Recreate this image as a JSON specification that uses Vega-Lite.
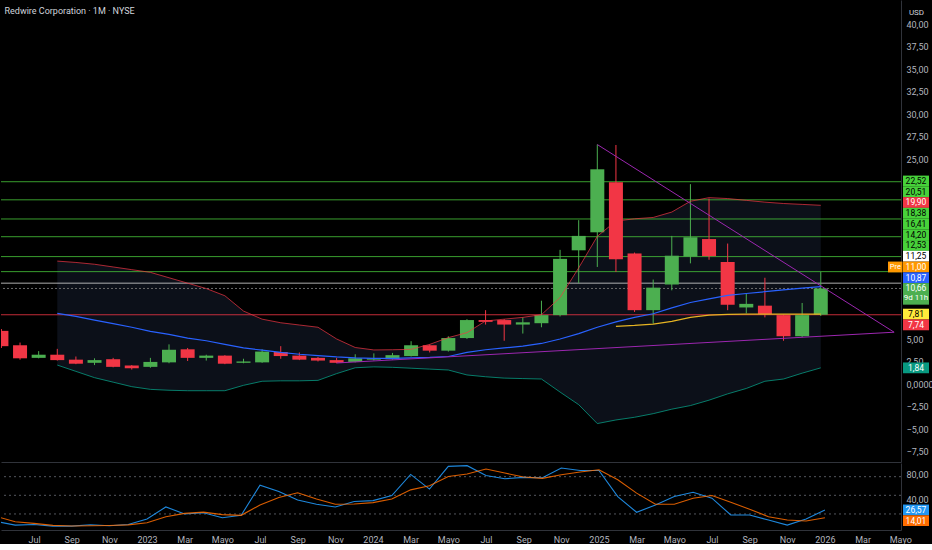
{
  "$schema": "https://vega.github.io/schema/vega-lite/v6.json",
  "background": "#000000",
  "padding": 0,
  "spacing": 1,
  "config": {
    "view": {"stroke": null},
    "font": "Roboto",
    "axis": {"labelColor": "#b2b5be", "labelFontSize": 9, "domainColor": "#30333a", "ticks": false, "grid": false, "labelOverlap": false, "labelFlush": false}
  },
  "datasets": {
    "candles": [
      {"m": -8, "open": 5.95, "close": 4.25, "high": 6.15, "low": 4.05},
      {"m": -7, "open": 4.35, "close": 2.9, "high": 4.65, "low": 2.75},
      {"m": -6, "open": 2.95, "close": 3.3, "high": 3.7, "low": 2.9},
      {"m": -5, "open": 3.3, "close": 2.7, "high": 3.95, "low": 2.65},
      {"m": -4, "open": 2.75, "close": 2.3, "high": 3.1, "low": 2.25},
      {"m": -3, "open": 2.4, "close": 2.7, "high": 2.9, "low": 2.15},
      {"m": -2, "open": 2.8, "close": 1.95, "high": 2.95, "low": 1.9},
      {"m": -1, "open": 2.1, "close": 1.8, "high": 2.15, "low": 1.65},
      {"m": 0, "open": 1.95, "close": 2.5, "high": 2.95, "low": 1.85},
      {"m": 1, "open": 2.45, "close": 3.85, "high": 4.45, "low": 2.35},
      {"m": 2, "open": 3.9, "close": 2.95, "high": 4.05, "low": 2.6},
      {"m": 3, "open": 2.95, "close": 3.2, "high": 3.3, "low": 2.65},
      {"m": 4, "open": 3.2, "close": 2.3, "high": 3.25, "low": 2.25},
      {"m": 5, "open": 2.4, "close": 2.55, "high": 2.85, "low": 2.35},
      {"m": 6, "open": 2.45, "close": 3.65, "high": 3.9, "low": 2.4},
      {"m": 7, "open": 3.6, "close": 3.15, "high": 4.25, "low": 2.85},
      {"m": 8, "open": 3.2, "close": 2.75, "high": 3.55, "low": 2.7},
      {"m": 9, "open": 2.95, "close": 2.65, "high": 3.05, "low": 2.55},
      {"m": 10, "open": 2.7, "close": 2.4, "high": 2.95, "low": 2.35},
      {"m": 11, "open": 2.5, "close": 2.9, "high": 3.35, "low": 2.45},
      {"m": 12, "open": 2.75, "close": 2.9, "high": 3.45, "low": 2.65},
      {"m": 13, "open": 2.8, "close": 3.25, "high": 3.5, "low": 2.75},
      {"m": 14, "open": 3.15, "close": 4.35, "high": 4.8, "low": 3.1},
      {"m": 15, "open": 4.35, "close": 3.75, "high": 4.45, "low": 3.55},
      {"m": 16, "open": 3.75, "close": 5.15, "high": 5.35, "low": 3.65},
      {"m": 17, "open": 5.15, "close": 7.15, "high": 7.25, "low": 5.05},
      {"m": 18, "open": 7.15, "close": 6.95, "high": 8.25, "low": 6.65},
      {"m": 19, "open": 7.15, "close": 6.65, "high": 7.25, "low": 4.85},
      {"m": 20, "open": 6.65, "close": 6.9, "high": 7.45, "low": 5.65},
      {"m": 21, "open": 6.8, "close": 7.7, "high": 9.3, "low": 6.35},
      {"m": 22, "open": 7.7, "close": 13.95, "high": 14.95, "low": 7.55},
      {"m": 23, "open": 14.9, "close": 16.5, "high": 18.25, "low": 11.25},
      {"m": 24, "open": 16.9, "close": 23.9, "high": 26.65, "low": 13.05},
      {"m": 25, "open": 22.45, "close": 13.9, "high": 26.6, "low": 12.5},
      {"m": 26, "open": 14.55, "close": 8.25, "high": 14.65, "low": 8.05},
      {"m": 27, "open": 8.25, "close": 10.75, "high": 11.65, "low": 6.75},
      {"m": 28, "open": 11.1, "close": 14.3, "high": 16.5, "low": 10.45},
      {"m": 29, "open": 14.2, "close": 16.35, "high": 22.25, "low": 13.45},
      {"m": 30, "open": 16.15, "close": 14.25, "high": 20.65, "low": 13.85},
      {"m": 31, "open": 13.6, "close": 8.85, "high": 15.65, "low": 8.25},
      {"m": 32, "open": 8.55, "close": 8.95, "high": 10.1, "low": 7.9},
      {"m": 33, "open": 8.75, "close": 7.8, "high": 11.85, "low": 7.45},
      {"m": 34, "open": 7.7, "close": 5.35, "high": 7.75, "low": 4.85},
      {"m": 35, "open": 5.35, "close": 7.7, "high": 9.05, "low": 5.25},
      {"m": 36, "open": 7.74, "close": 10.66, "high": 12.5, "low": 7.6}
    ],
    "bands": [
      {"m": -5, "upper": 13.7, "mid": 7.9, "lower": 2.15},
      {"m": -4, "upper": 13.55, "mid": 7.55, "lower": 1.45},
      {"m": -3, "upper": 13.35, "mid": 7.15, "lower": 0.75},
      {"m": -2, "upper": 13.05, "mid": 6.75, "lower": 0.25},
      {"m": -1, "upper": 12.75, "mid": 6.35, "lower": -0.25},
      {"m": 0, "upper": 12.45, "mid": 5.9, "lower": -0.55},
      {"m": 1, "upper": 11.85, "mid": 5.55, "lower": -0.65},
      {"m": 2, "upper": 11.25, "mid": 5.15, "lower": -0.7},
      {"m": 3, "upper": 10.65, "mid": 4.85, "lower": -0.7},
      {"m": 4, "upper": 9.85, "mid": 4.45, "lower": -0.7},
      {"m": 5, "upper": 8.15, "mid": 4.05, "lower": -0.1},
      {"m": 6, "upper": 7.25, "mid": 3.8, "lower": 0.35},
      {"m": 7, "upper": 6.85, "mid": 3.55, "lower": 0.4},
      {"m": 8, "upper": 6.6, "mid": 3.35, "lower": 0.4},
      {"m": 9, "upper": 6.35, "mid": 3.2, "lower": 0.45},
      {"m": 10, "upper": 5.05, "mid": 3.05, "lower": 1.2},
      {"m": 11, "upper": 4.1, "mid": 2.95, "lower": 1.85},
      {"m": 12, "upper": 3.83, "mid": 2.9, "lower": 1.95},
      {"m": 13, "upper": 3.85, "mid": 2.9, "lower": 1.9},
      {"m": 14, "upper": 3.9, "mid": 2.95, "lower": 1.8},
      {"m": 15, "upper": 4.45, "mid": 3.0, "lower": 1.7},
      {"m": 16, "upper": 5.2, "mid": 3.1, "lower": 1.6},
      {"m": 17, "upper": 5.75, "mid": 3.55, "lower": 1.05},
      {"m": 18, "upper": 7.05, "mid": 3.85, "lower": 0.85},
      {"m": 19, "upper": 7.25, "mid": 4.05, "lower": 0.7},
      {"m": 20, "upper": 7.45, "mid": 4.25, "lower": 0.65},
      {"m": 21, "upper": 7.75, "mid": 4.55, "lower": 0.6},
      {"m": 22, "upper": 9.65, "mid": 5.05, "lower": -0.85},
      {"m": 23, "upper": 12.95, "mid": 5.65, "lower": -2.25},
      {"m": 24, "upper": 16.45, "mid": 6.35, "lower": -4.35},
      {"m": 25, "upper": 18.15, "mid": 6.95, "lower": -3.95},
      {"m": 26, "upper": 18.4, "mid": 7.45, "lower": -3.65},
      {"m": 27, "upper": 18.55, "mid": 7.85, "lower": -3.25},
      {"m": 28, "upper": 19.15, "mid": 8.5, "lower": -2.75},
      {"m": 29, "upper": 20.35, "mid": 9.1, "lower": -2.35},
      {"m": 30, "upper": 20.75, "mid": 9.5, "lower": -1.75},
      {"m": 31, "upper": 20.65, "mid": 9.9, "lower": -1.05},
      {"m": 32, "upper": 20.45, "mid": 10.1, "lower": -0.45},
      {"m": 33, "upper": 20.25, "mid": 10.3, "lower": 0.35},
      {"m": 34, "upper": 20.1, "mid": 10.5, "lower": 0.6},
      {"m": 35, "upper": 20.0, "mid": 10.7, "lower": 1.25},
      {"m": 36, "upper": 19.9, "mid": 10.87, "lower": 1.84}
    ],
    "yellow": [
      {"m": 25, "v": 6.45}, {"m": 26, "v": 6.55}, {"m": 27, "v": 6.7}, {"m": 28, "v": 7.0},
      {"m": 29, "v": 7.45}, {"m": 30, "v": 7.7}, {"m": 31, "v": 7.78}, {"m": 32, "v": 7.8},
      {"m": 33, "v": 7.8}, {"m": 34, "v": 7.8}, {"m": 35, "v": 7.81}, {"m": 36, "v": 7.81}
    ],
    "trend": [
      {"line": "down", "m": 24, "p": 26.65},
      {"line": "down", "m": 39.94, "p": 5.8},
      {"line": "up", "m": 10, "p": 2.38},
      {"line": "up", "m": 39.94, "p": 5.8}
    ],
    "levels": [
      {"price": 22.52, "kind": "level"},
      {"price": 20.51, "kind": "level"},
      {"price": 18.38, "kind": "level"},
      {"price": 16.41, "kind": "level"},
      {"price": 14.2, "kind": "level"},
      {"price": 12.53, "kind": "level"},
      {"price": 11.25, "kind": "white"},
      {"price": 10.66, "kind": "last"},
      {"price": 7.74, "kind": "red"}
    ],
    "tags": [
      {"price": 22.52, "kind": "level"},
      {"price": 20.51, "kind": "level"},
      {"price": 19.9, "kind": "bbup"},
      {"price": 18.38, "kind": "level"},
      {"price": 16.41, "kind": "level"},
      {"price": 14.2, "kind": "level"},
      {"price": 12.53, "kind": "level"},
      {"price": 11.25, "kind": "white"},
      {"price": 11.0, "kind": "pre"},
      {"price": 10.87, "kind": "bbmid"},
      {"price": 10.66, "kind": "last", "note": "9d 11h"},
      {"price": 7.81, "kind": "yellow"},
      {"price": 7.74, "kind": "red"},
      {"price": 1.84, "kind": "bblow"}
    ],
    "stoch": [
      {"m": -8, "k": 8, "d": 16},
      {"m": -7, "k": 2, "d": 7.5},
      {"m": -6, "k": 3, "d": 4.9},
      {"m": -5, "k": 0.5, "d": 1.6},
      {"m": -4, "k": 0.5, "d": 0.6},
      {"m": -3, "k": 2.6, "d": 1},
      {"m": -2, "k": 1, "d": 1.5},
      {"m": -1, "k": 3, "d": 2.5},
      {"m": 0, "k": 11.8, "d": 5.9},
      {"m": 1, "k": 31.3, "d": 15.6},
      {"m": 2, "k": 20, "d": 21},
      {"m": 3, "k": 22, "d": 23},
      {"m": 4, "k": 14, "d": 18.9},
      {"m": 5, "k": 17.8, "d": 17.8},
      {"m": 6, "k": 66.4, "d": 34.5},
      {"m": 7, "k": 56, "d": 46.4},
      {"m": 8, "k": 42.6, "d": 54},
      {"m": 9, "k": 35.6, "d": 44.2},
      {"m": 10, "k": 31.3, "d": 35.6},
      {"m": 11, "k": 40, "d": 36},
      {"m": 12, "k": 41.5, "d": 38.3},
      {"m": 13, "k": 49.6, "d": 44.2},
      {"m": 14, "k": 83.6, "d": 58.8},
      {"m": 15, "k": 60, "d": 65.3},
      {"m": 16, "k": 96.6, "d": 80.4},
      {"m": 17, "k": 97.7, "d": 84.2},
      {"m": 18, "k": 82, "d": 92.4},
      {"m": 19, "k": 76.7, "d": 85.9},
      {"m": 20, "k": 78.8, "d": 79.4},
      {"m": 21, "k": 78.3, "d": 77.2},
      {"m": 22, "k": 94, "d": 83.1},
      {"m": 23, "k": 90, "d": 87.5},
      {"m": 24, "k": 90, "d": 91.2},
      {"m": 25, "k": 48, "d": 75},
      {"m": 26, "k": 22.7, "d": 53.5},
      {"m": 27, "k": 34.5, "d": 35.6},
      {"m": 28, "k": 48, "d": 35.6},
      {"m": 29, "k": 55, "d": 45.4},
      {"m": 30, "k": 45.4, "d": 49.6},
      {"m": 31, "k": 18.3, "d": 38.9},
      {"m": 32, "k": 18.3, "d": 27.5},
      {"m": 33, "k": 10.2, "d": 15.6},
      {"m": 34, "k": 2.1, "d": 10.2},
      {"m": 35, "k": 11.8, "d": 8.6},
      {"m": 36, "k": 26.57, "d": 14.01}
    ],
    "stochlevels": [{"v": 80}, {"v": 50}, {"v": 20}],
    "stochtags": [{"v": 26.57, "kind": "k"}, {"v": 14.01, "kind": "d"}]
  },
  "resolve": {"scale": {"x": "independent", "y": "independent", "color": "independent", "fill": "independent", "stroke": "independent"}},
  "vconcat": [
    {
      "width": 900,
      "height": 462,
      "title": {"text": "Redwire Corporation · 1M · NYSE", "anchor": "start", "offset": -16, "dx": 4, "fontSize": 9, "fontWeight": "normal", "color": "#d1d4dc"},
      "layer": [
        {
          "data": {"name": "bands"},
          "mark": {"type": "area", "color": "#0c1019"},
          "encoding": {
            "x": {"field": "m", "type": "quantitative", "scale": {"domain": [-7.754, 40.04], "nice": false, "zero": false}, "axis": {"labels": false, "title": null, "domainColor": "#30333a"}},
            "y": {"field": "upper", "type": "quantitative", "scale": {"domain": [-8.62, 42.71], "nice": false, "zero": false},
              "axis": {"orient": "right", "title": "USD", "titleAngle": 0, "titleX": 15, "titleY": 12, "titleAlign": "center", "titleBaseline": "middle", "titleFontSize": 8, "titleFontWeight": "normal", "titleColor": "#d1d4dc",
                "values": [-7.5, -5, -2.5, 0, 2.5, 5, 25, 27.5, 30, 32.5, 35, 37.5, 40], "tickCount": 100,
                "labelExpr": "datum.value == 0 ? '0,0000' : replace(format(datum.value, '.2f'), '.', ',')", "labelPadding": 5}},
            "y2": {"field": "lower"}
          }
        },
        {
          "data": {"name": "levels"},
          "transform": [{"filter": "datum.kind != 'last'"}],
          "mark": {"type": "rule", "strokeWidth": 1, "opacity": 0.8},
          "encoding": {
            "y": {"field": "price", "type": "quantitative"},
            "stroke": {"field": "kind", "type": "nominal", "scale": {"domain": ["level", "white", "red"], "range": ["#47c43a", "#d9d9d9", "#f23645"]}, "legend": null}
          }
        },
        {
          "data": {"name": "levels"},
          "transform": [{"filter": "datum.kind == 'last'"}],
          "mark": {"type": "rule", "strokeWidth": 1, "color": "#6b6b6b", "strokeDash": [2, 2]},
          "encoding": {"y": {"field": "price", "type": "quantitative"}}
        },
        {
          "data": {"name": "candles"},
          "transform": [{"calculate": "datum.close >= datum.open ? 'up' : 'down'", "as": "dir"}],
          "layer": [
            {
              "mark": {"type": "rule", "clip": true},
              "encoding": {
                "x": {"field": "m", "type": "quantitative"},
                "y": {"field": "low", "type": "quantitative"},
                "y2": {"field": "high"},
                "color": {"field": "dir", "type": "nominal", "scale": {"domain": ["up", "down"], "range": ["#4caf50", "#f23645"]}, "legend": null}
              }
            },
            {
              "mark": {"type": "bar", "size": 14, "clip": true},
              "encoding": {
                "x": {"field": "m", "type": "quantitative"},
                "y": {"field": "open", "type": "quantitative"},
                "y2": {"field": "close"},
                "color": {"field": "dir", "type": "nominal", "scale": {"domain": ["up", "down"], "range": ["#4caf50", "#f23645"]}, "legend": null}
              }
            }
          ]
        },
        {
          "data": {"name": "bands"},
          "mark": {"type": "line", "color": "#f23645", "strokeWidth": 1, "opacity": 0.7},
          "encoding": {"x": {"field": "m", "type": "quantitative"}, "y": {"field": "upper", "type": "quantitative"}}
        },
        {
          "data": {"name": "bands"},
          "mark": {"type": "line", "color": "#2962ff", "strokeWidth": 1.2},
          "encoding": {"x": {"field": "m", "type": "quantitative"}, "y": {"field": "mid", "type": "quantitative"}}
        },
        {
          "data": {"name": "bands"},
          "mark": {"type": "line", "color": "#089981", "strokeWidth": 1, "opacity": 0.8},
          "encoding": {"x": {"field": "m", "type": "quantitative"}, "y": {"field": "lower", "type": "quantitative"}}
        },
        {
          "data": {"name": "yellow"},
          "mark": {"type": "line", "color": "#e6b422", "strokeWidth": 1.2},
          "encoding": {"x": {"field": "m", "type": "quantitative"}, "y": {"field": "v", "type": "quantitative"}}
        },
        {
          "data": {"name": "trend"},
          "mark": {"type": "line", "color": "#9c27b0", "strokeWidth": 1},
          "encoding": {"x": {"field": "m", "type": "quantitative"}, "y": {"field": "p", "type": "quantitative"}, "detail": {"field": "line"}}
        },
        {
          "data": {"name": "tags"},
          "transform": [
            {"calculate": "datum.kind == 'last' ? datum.price : null", "as": "lastp"},
            {"joinaggregate": [{"op": "max", "field": "lastp", "as": "anchor"}]},
            {"calculate": "datum.price >= datum.anchor ? 'up' : 'dn'", "as": "side"},
            {"calculate": "datum.side == 'up' ? datum.price : -datum.price", "as": "key"},
            {"window": [{"op": "row_number", "as": "r"}], "groupby": ["side"], "sort": [{"field": "key", "order": "ascending"}]},
            {"calculate": "datum.price - datum.r * 1.194", "as": "aup"},
            {"calculate": "datum.price + datum.r * 1.194", "as": "adn"},
            {"window": [{"op": "max", "field": "aup", "as": "mx"}, {"op": "min", "field": "adn", "as": "mn"}], "groupby": ["side"], "sort": [{"field": "key", "order": "ascending"}], "frame": [null, 0]},
            {"calculate": "datum.side == 'up' ? datum.mx + datum.r * 1.194 : datum.mn - datum.r * 1.194", "as": "pos"},
            {"calculate": "datum.pos + 0.6", "as": "top"},
            {"calculate": "datum.kind == 'last' ? datum.pos - 1.8 : datum.pos - 0.6", "as": "bot"},
            {"calculate": "replace(format(datum.price, '.2f'), '.', ',')", "as": "label"}
          ],
          "layer": [
            {
              "mark": {"type": "rect", "x": {"expr": "width + 2"}, "x2": {"expr": "width + 28"}},
              "encoding": {
                "y": {"field": "top", "type": "quantitative"},
                "y2": {"field": "bot"},
                "fill": {"field": "kind", "type": "nominal", "legend": null,
                  "scale": {"domain": ["level", "bbup", "white", "pre", "bbmid", "last", "yellow", "red", "bblow"],
                            "range": ["#47d13a", "#f23645", "#ffffff", "#ff9800", "#2962ff", "#4caf50", "#ffeb3b", "#f23645", "#089981"]}}
              }
            },
            {
              "mark": {"type": "text", "x": {"expr": "width + 15"}, "align": "center", "baseline": "middle", "fontSize": 8.5},
              "encoding": {
                "y": {"field": "pos", "type": "quantitative"},
                "text": {"field": "label"},
                "color": {"condition": {"test": "datum.kind == 'level' || datum.kind == 'white' || datum.kind == 'yellow'", "value": "#000000"}, "value": "#ffffff"}
              }
            },
            {
              "transform": [{"filter": "datum.note"}],
              "mark": {"type": "text", "x": {"expr": "width + 15"}, "align": "center", "baseline": "middle", "fontSize": 8, "dy": 10, "color": "#ffffff"},
              "encoding": {
                "y": {"field": "pos", "type": "quantitative"},
                "text": {"field": "note"}
              }
            },
            {
              "transform": [{"filter": "datum.kind == 'pre'"}],
              "layer": [
                {
                  "mark": {"type": "rect", "x": {"expr": "width - 13"}, "x2": {"expr": "width + 1.5"}, "color": "#ff9800"},
                  "encoding": {"y": {"field": "top", "type": "quantitative"}, "y2": {"field": "bot"}}
                },
                {
                  "mark": {"type": "text", "x": {"expr": "width - 5.7"}, "align": "center", "baseline": "middle", "fontSize": 7.5, "color": "#ffffff", "text": "Pre"},
                  "encoding": {"y": {"field": "pos", "type": "quantitative"}}
                }
              ]
            }
          ]
        }
      ]
    },
    {
      "width": 900,
      "height": 67,
      "layer": [
        {
          "data": {"name": "stochlevels"},
          "mark": {"type": "rule", "color": "#787b86", "strokeDash": [2, 3], "opacity": 0.7},
          "encoding": {
            "y": {"field": "v", "type": "quantitative", "scale": {"domain": [-5.8, 102], "nice": false, "zero": false},
              "axis": {"orient": "right", "title": null, "values": [40, 80], "tickCount": 100, "labelExpr": "replace(format(datum.value, '.2f'), '.', ',')", "labelPadding": 5, "labelBaseline": "bottom", "labelOffset": 3}}
          }
        },
        {
          "data": {"name": "stoch"},
          "mark": {"type": "line", "color": "#2196f3", "strokeWidth": 1.1, "clip": true, "opacity": 0.9},
          "encoding": {
            "x": {"field": "m", "type": "quantitative", "scale": {"domain": [-7.754, 40.04], "nice": false, "zero": false},
              "axis": {"orient": "bottom", "title": null, "values": [-6, -4, -2, 0, 2, 4, 6, 8, 10, 12, 14, 16, 18, 20, 22, 24, 26, 28, 30, 32, 34, 36, 38, 40], "tickCount": 100,
                "labelExpr": "datum.value % 12 == 0 ? toString(2023 + datum.value / 12) : ['Ene','Feb','Mar','Abr','Mayo','Jun','Jul','Ago','Sep','Oct','Nov','Dic'][(datum.value % 12 + 12) % 12]",
                "labelPadding": 5, "domainColor": "#30333a"}},
            "y": {"field": "k", "type": "quantitative"}
          }
        },
        {
          "data": {"name": "stoch"},
          "mark": {"type": "line", "color": "#ff6d00", "strokeWidth": 1.1, "clip": true, "opacity": 0.85},
          "encoding": {
            "x": {"field": "m", "type": "quantitative"},
            "y": {"field": "d", "type": "quantitative"}
          }
        },
        {
          "data": {"name": "stochtags"},
          "transform": [
            {"window": [{"op": "row_number", "as": "r"}], "sort": [{"field": "v", "order": "descending"}]},
            {"calculate": "datum.v + datum.r * 17.3", "as": "a"},
            {"window": [{"op": "min", "field": "a", "as": "mn"}], "sort": [{"field": "v", "order": "descending"}], "frame": [null, 0]},
            {"calculate": "datum.mn - datum.r * 17.3", "as": "pos"},
            {"calculate": "datum.pos + 8.6", "as": "top"},
            {"calculate": "datum.pos - 8.6", "as": "bot"},
            {"calculate": "replace(format(datum.v, '.2f'), '.', ',')", "as": "label"}
          ],
          "layer": [
            {
              "mark": {"type": "rect", "x": {"expr": "width + 2"}, "x2": {"expr": "width + 28"}},
              "encoding": {
                "y": {"field": "top", "type": "quantitative"},
                "y2": {"field": "bot"},
                "fill": {"field": "kind", "type": "nominal", "legend": null, "scale": {"domain": ["k", "d"], "range": ["#2196f3", "#ff6d00"]}}
              }
            },
            {
              "mark": {"type": "text", "x": {"expr": "width + 15"}, "align": "center", "baseline": "middle", "fontSize": 8.5, "color": "#ffffff"},
              "encoding": {
                "y": {"field": "pos", "type": "quantitative"},
                "text": {"field": "label"}
              }
            }
          ]
        }
      ]
    }
  ]
}
